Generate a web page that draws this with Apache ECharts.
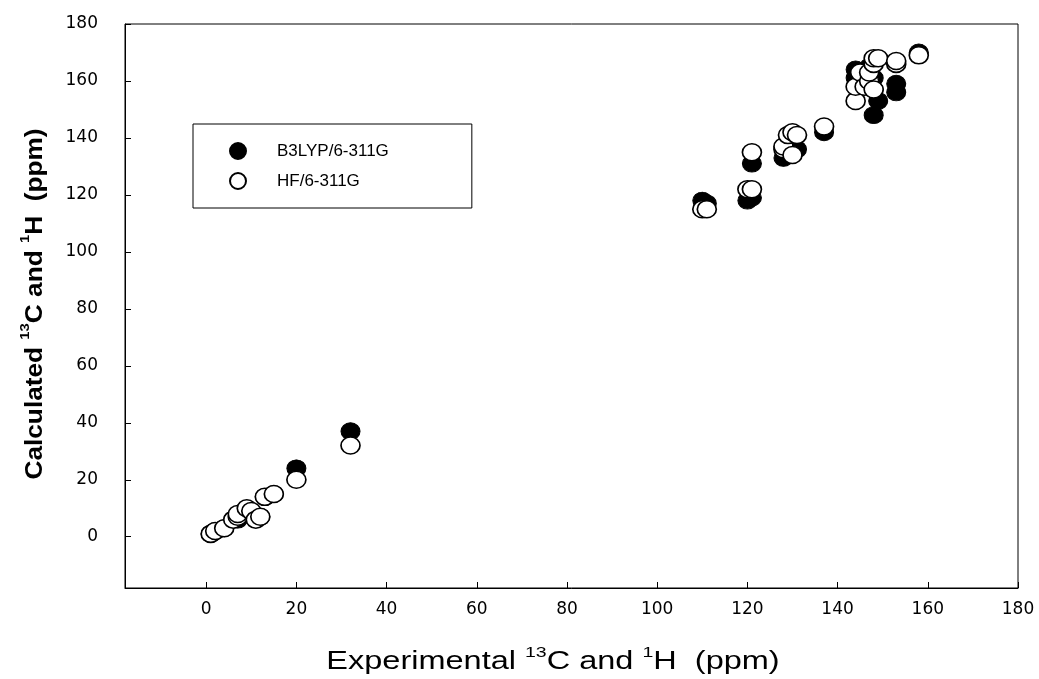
<!DOCTYPE html>
<html lang="en">
<head>
    <meta charset="UTF-8">
    <title>13C / 1H calculated vs experimental</title>
    <script src="https://cdn.jsdelivr.net/npm/echarts@6/dist/echarts.min.js"></script>
    <style>
        html, body { margin: 0; padding: 0; background: #fff; }
    </style>
</head>
<body>
<div id="main" style="width:1039px;height:679px;"></div>
<script>
    // 刻度
    var tickValues = [0, 20, 40, 60, 80, 100, 120, 140, 160, 180];

    // B3LYP/6-311G  [实验值, 计算值]
    var b3lypData = [
        [1, 1], [2, 2], [4, 3], [6, 6], [7, 6], [8, 8], [9, 9], [10, 8], [11, 7], [12, 7],
        [13, 14], [15, 15], [20, 24], [32, 37],
        [110, 118], [111, 117], [120, 118], [121, 119], [121, 131],
        [128, 133], [129, 135], [130, 139], [131, 136], [137, 142],
        [144, 164], [144, 161], [145, 159], [146, 160], [147, 165], [147, 162],
        [148, 161], [148, 157], [149, 153], [148, 148], [153, 159], [153, 156], [158, 170]
    ];

    // HF/6-311G
    var hfData = [
        [1, 1], [2, 2], [4, 3], [6, 6], [7, 7], [7, 8], [9, 10], [10, 9], [11, 6], [12, 7],
        [13, 14], [15, 15], [20, 20], [32, 32],
        [110, 115], [111, 115], [120, 122], [121, 122], [121, 135],
        [128, 136], [128, 137], [129, 141], [130, 142], [131, 141], [130, 134], [137, 144],
        [144, 153], [144, 158], [145, 163], [146, 158], [147, 160], [148, 157], [147, 163],
        [148, 166], [148, 168], [149, 168], [153, 166], [153, 167], [158, 169]
    ];

    var myChart = echarts.init(document.getElementById('main'));

    var font = 'Liberation Sans, Arial, sans-serif';

    var option = {
        animation: false,
        backgroundColor: '#fff',
        grid: {
            left: 125, right: 21, top: 24, bottom: 91,
            show: true, borderColor: '#000', borderWidth: 1
        },
        // 坐标轴标题（横向拉伸，接近原图的字距）
        graphic: [
            {
                type: 'text',
                x: 553, y: 660,
                scaleX: 1.3,
                style: {
                    text: '{t|Experimental }{s|13}{t|C and }{s|1}{t|H  (ppm)}',
                    align: 'center', verticalAlign: 'middle',
                    rich: {
                        t: {fontFamily: font, fontSize: 25, fill: '#000', lineHeight: 30, verticalAlign: 'bottom'},
                        s: {fontFamily: font, fontSize: 15, fill: '#000', lineHeight: 30, verticalAlign: 'top', padding: [0, 0, 12, 0]}
                    }
                }
            },
            {
                type: 'text',
                x: 33, y: 304,
                rotation: Math.PI / 2,
                scaleX: 1.14,
                style: {
                    text: '{t|Calculated }{s|13}{t|C and }{s|1}{t|H  (ppm)}',
                    align: 'center', verticalAlign: 'middle',
                    rich: {
                        t: {fontFamily: font, fontSize: 23, fontWeight: 'bold', fill: '#000', lineHeight: 28, verticalAlign: 'bottom'},
                        s: {fontFamily: font, fontSize: 13, fontWeight: 'bold', fill: '#000', lineHeight: 28, verticalAlign: 'top', padding: [0, 0, 11, 0]}
                    }
                }
            }
        ],
        legend: {
            orient: 'vertical',
            left: 193, top: 124,
            padding: [18, 83, 18, 36],
            borderColor: '#000', borderWidth: 1,
            itemWidth: 16, itemHeight: 16, itemGap: 12,
            textStyle: {fontFamily: font, fontSize: 17, color: '#000', padding: [0, 0, 0, 26]},
            data: ['B3LYP/6-311G', 'HF/6-311G']
        },
        xAxis: {
            type: 'value',
            min: -18, max: 180,
            axisLine: {onZero: false, lineStyle: {color: '#000', width: 1}},
            axisTick: {inside: true, length: 6, lineStyle: {color: '#000'}, customValues: tickValues},
            axisLabel: {fontFamily: 'DejaVu Sans', fontSize: 17, color: '#000', margin: 13, customValues: tickValues},
            splitLine: {show: false}
        },
        yAxis: {
            type: 'value',
            min: -18, max: 180,
            axisLine: {onZero: false, lineStyle: {color: '#000', width: 1}},
            axisTick: {inside: true, length: 6, lineStyle: {color: '#000'}, customValues: tickValues},
            axisLabel: {fontFamily: 'DejaVu Sans', fontSize: 17, color: '#000', margin: 27, customValues: tickValues},
            splitLine: {show: false}
        },
        series: [
            {
                name: 'B3LYP/6-311G',
                type: 'scatter',
                symbol: 'circle',
                symbolSize: [19, 17],
                itemStyle: {color: '#000', borderColor: '#000', borderWidth: 1, opacity: 1},
                data: b3lypData
            },
            {
                name: 'HF/6-311G',
                type: 'scatter',
                symbol: 'circle',
                symbolSize: [19, 17],
                itemStyle: {color: '#fff', borderColor: '#000', borderWidth: 1.6, opacity: 1},
                data: hfData
            }
        ]
    };

    myChart.setOption(option);
</script>
</body>
</html>
